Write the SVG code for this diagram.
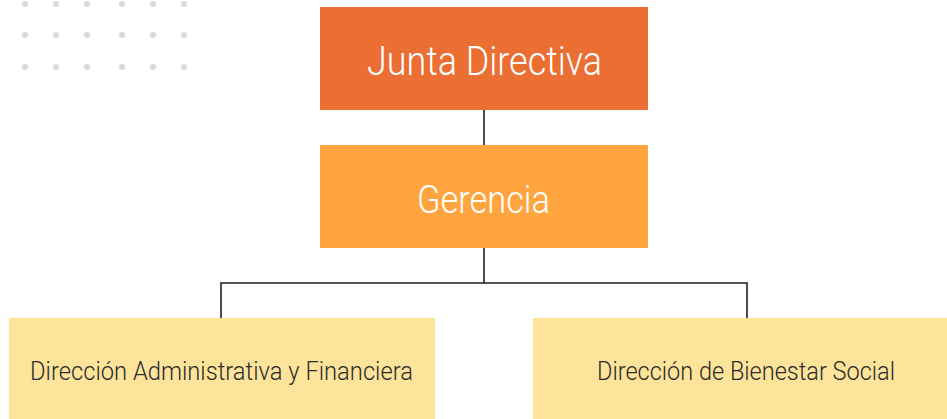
<svg xmlns="http://www.w3.org/2000/svg" width="947" height="419" viewBox="0 0 947 419">
  <style>
    .dot { fill: #d9d9dc; }
    .conn { fill: none; stroke: #1e1e1e; stroke-width: 1.6; }
    .t { font-family: Roboto, "Open Sans", "Liberation Sans", sans-serif; text-anchor: middle; font-weight: 300; }
    .big { fill: #ffffff; }
    .small { fill: #2b2b2b; font-size: 25px; }
  </style>
  <rect width="947" height="419" fill="#ffffff"/>
  <g id="dots">
    <circle class="dot" cx="25" cy="4" r="3"/><circle class="dot" cx="56" cy="4" r="3"/><circle class="dot" cx="87" cy="4" r="3"/><circle class="dot" cx="122" cy="4" r="3"/><circle class="dot" cx="153" cy="4" r="3"/><circle class="dot" cx="184" cy="4" r="3"/>
    <circle class="dot" cx="25" cy="35" r="3"/><circle class="dot" cx="56" cy="35" r="3"/><circle class="dot" cx="87" cy="35" r="3"/><circle class="dot" cx="122" cy="35" r="3"/><circle class="dot" cx="153" cy="35" r="3"/><circle class="dot" cx="184" cy="35" r="3"/>
    <circle class="dot" cx="25" cy="67" r="3"/><circle class="dot" cx="56" cy="67" r="3"/><circle class="dot" cx="87" cy="67" r="3"/><circle class="dot" cx="122" cy="67" r="3"/><circle class="dot" cx="153" cy="67" r="3"/><circle class="dot" cx="184" cy="67" r="3"/>
  </g>
  <g id="connectors">
    <line class="conn" x1="484" y1="110" x2="484" y2="145"/>
    <line class="conn" x1="484" y1="248" x2="484" y2="283"/>
    <polyline class="conn" points="221,318 221,283 747,283 747,318"/>
  </g>
  <g id="junta">
    <rect x="320" y="7" width="328" height="103" fill="#eb6e33"/>
    <text class="t big" x="484.5" y="75" font-size="40" textLength="235" lengthAdjust="spacingAndGlyphs">Junta Directiva</text>
  </g>
  <g id="gerencia">
    <rect x="320" y="145" width="328" height="103" fill="#ffa43e"/>
    <text class="t big" x="483.5" y="213" font-size="38" textLength="133" lengthAdjust="spacingAndGlyphs">Gerencia</text>
  </g>
  <g id="dir-admin">
    <rect x="9" y="318" width="426" height="110" fill="#fee39a"/>
    <text class="t small" x="221.5" y="380" textLength="383" lengthAdjust="spacingAndGlyphs">Dirección Administrativa y Financiera</text>
  </g>
  <g id="dir-bienestar">
    <rect x="533" y="318" width="426" height="110" fill="#fee39a"/>
    <text class="t small" x="746" y="380" textLength="298" lengthAdjust="spacingAndGlyphs">Dirección de Bienestar Social</text>
  </g>
</svg>
